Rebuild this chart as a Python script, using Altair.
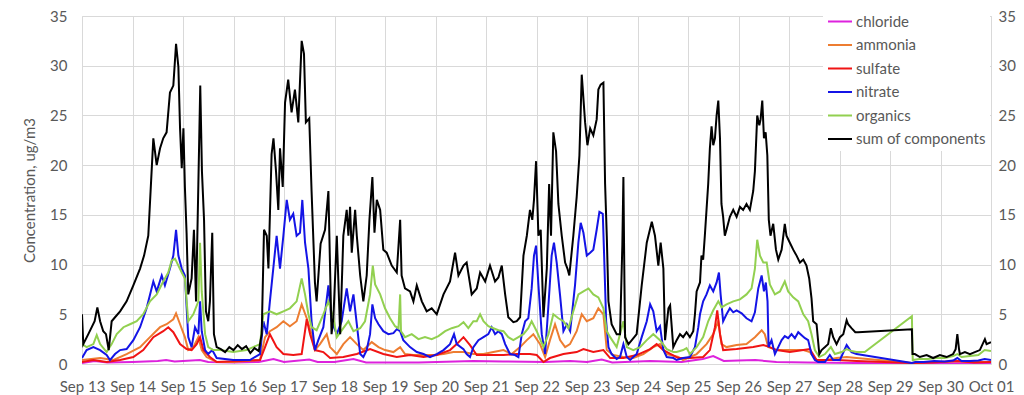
import altair as alt
import pandas as pd

SERIES = ["chloride", "ammonia", "sulfate", "nitrate", "organics", "sum of components"]
COLORS = ["#DD22DD", "#ED7D31", "#F01414", "#1414E6", "#92D050", "#000000"]
DAY_LABELS = ["Sep 13", "Sep 14", "Sep 15", "Sep 16", "Sep 17", "Sep 18", "Sep 19", "Sep 20",
              "Sep 21", "Sep 22", "Sep 23", "Sep 24", "Sep 25", "Sep 26", "Sep 27", "Sep 28",
              "Sep 29", "Sep 30", "Oct 01"]
Y_TICKS = [0, 5, 10, 15, 20, 25, 30, 35]

# hours since Sep 13 00:00, concentration (ug/m3)
SUM_H = [0, 0.6, 3.0, 6.0, 7.3, 8.6, 10.1, 11.4, 12.7, 14.1, 15.7, 18.1, 21.2, 24.4, 27.6, 29.5, 31.5, 32.6,
         33.9, 35.5, 37.1, 38.6, 40.2, 41.8, 43.4, 44.7, 45.8, 46.6, 47.4, 48.2, 48.9, 49.7, 50.5, 52.1, 53.2,
         54.2, 55.3, 56.2, 57.0, 58.0, 58.9, 60.0, 60.8, 61.9, 62.7, 64.0, 66, 68, 70, 72, 74, 76, 78, 80, 82,
         84, 85.4, 86.5, 87.8, 88.6, 90.1, 91.0, 92.2, 93.3, 94.1, 95.4, 96.5, 98.0, 99.6, 101.2, 102.8, 104.4,
         105.5, 106.4, 108.0, 109.1, 110.7, 111.5, 113.4, 115.5, 117.1, 117.9, 118.6, 119.5, 121.1, 122.7,
         124.2, 125.8, 126.6, 127.4, 128.2, 129.8, 130.6, 132.2, 133.7, 135.3, 136.6, 138.0, 139.0, 140.1,
         141.7, 143.2, 144.8, 147.2, 149.6, 151.2, 151.9, 153.5, 155.9, 157.5, 159.1, 161.5, 163.8, 166.2,
         168.6, 171.8, 174.9, 177.3, 178.9, 181.3, 182.8, 185.2, 187.6, 189.2, 191.6, 193.9, 196.3, 197.9,
         199.5, 201.1, 202.6, 205.0, 206.6, 208.2, 209.8, 211.4, 212.9, 214.0, 214.8, 215.8, 216.9, 218.0,
         219.3, 220.9, 222.0, 222.9, 224.0, 225.3, 226.4, 228.0, 229.6, 230.7, 231.6, 233.5, 235.1, 236.4,
         237.5, 239.1, 240.2, 241.5, 243.0, 244.6, 245.4, 246.5, 247.8, 248.6, 249.4, 250.2, 251.7, 254.1,
         255.7, 256.8, 257.3, 257.8, 258.1, 259.7, 261.3, 263.6, 266.0, 268.4, 270.8, 272.3, 273.9, 275.0,
         276.3, 277.1, 278.7, 279.5, 281.0, 282.6, 284.2, 285.7, 287.3, 288.9, 290.5, 291.3, 292.1, 293.7,
         294.4, 295.2, 296.0, 296.8, 297.6, 298.4, 299.2, 300.0, 300.8, 301.6, 302.4, 303.2, 303.9, 304.7,
         305.5, 306.3, 307.9, 309.5, 311.1, 312.7, 314.2, 315.8, 317.4, 319.0, 319.8, 320.9, 321.9, 322.5,
         323.3, 324.1, 324.9, 325.7, 326.4, 327.2, 328.5, 329.8, 330.9, 332.5, 334.0, 334.8, 336.4, 338.0,
         339.6, 341.2, 342.8, 344.3, 345.6, 346.7, 347.5, 349.1, 350.4, 351.5, 353.1, 354.6, 355.9, 357.0,
         358.6, 360.2, 361.8, 363.4, 364.1, 365.7, 367.5, 368.8, 394.4, 394.7, 395.8, 398.2, 401.4, 404.5,
         407.7, 410.9, 414.0, 415.2, 416.0, 416.8, 417.2, 419.6, 422.0, 424.3, 426.7, 429.1, 429.9, 432.0]
SUM_V = [5.0, 2.0, 3.0, 4.3, 5.7, 4.3, 3.3, 3.0, 1.4, 4.3, 4.7, 5.3, 6.3, 7.9, 9.6, 10.9, 12.9, 17.4,
         22.7, 20.0, 21.7, 22.7, 23.3, 27.3, 28.0, 32.2, 29.9, 23.7, 19.7, 23.7, 17.8, 13.2, 7.0, 8.6, 13.5,
         6.3, 18.1, 28.0, 19.4, 14.5, 5.3, 4.3, 6.3, 13.2, 3.0, 1.7, 1.5, 1.2, 1.7, 1.4, 1.9, 1.5, 1.8, 1.1, 1.6,
         1.3, 3.0, 13.5, 12.9, 9.6, 21.1, 22.7, 19.4, 15.5, 21.7, 17.8, 26.3, 28.6, 25.3, 27.6, 24.3, 32.5,
         31.2, 24.3, 24.7, 17.4, 8.2, 6.3, 12.1, 13.5, 17.4, 9.6, 3.0, 4.7, 12.9, 3.0,
         12.9, 15.5, 12.9, 15.8, 11.2, 15.5, 12.9, 8.9, 6.3, 8.9, 14.5, 18.8, 13.2, 16.5,
         15.5, 11.5, 11.2, 9.9, 9.2, 14.5, 8.9, 7.6, 7.3, 6.3, 7.9, 6.3, 5.3, 5.6,
         5.0, 7.0, 8.3, 11.2, 8.9, 9.9, 10.2, 7.0, 7.6, 9.2, 8.3, 9.9, 8.3, 8.7,
         9.9, 7.0, 4.7, 4.2, 4.3, 4.7, 10.9, 12.9, 15.5, 14.5, 16.5, 20.4, 12.9, 13.5,
         4.7, 9.6, 18.1, 12.9, 23.3, 21.4, 16.1, 12.9, 10.2, 9.6, 8.9, 12.9, 16.8, 21.0,
         29.1, 24.3, 22.0, 23.7, 23.0, 24.6, 27.6, 28.1, 28.3, 18.1, 12.9, 6.3, 4.0, 3.0,
         3.0, 12.0, 18.8, 8.0, 2.7, 2.0, 2.4, 3.0, 7.9, 12.2, 14.3, 12.9, 9.9, 12.2,
         9.6, 2.4, 5.6, 5.9, 1.7, 2.4, 3.0, 2.7, 3.2, 2.7, 3.3, 5.0, 7.3, 8.2,
         10.9, 10.5, 12.9, 15.5, 18.1, 21.7, 23.9, 22.0, 22.7, 25.0, 26.5, 22.7, 16.1, 14.8,
         12.9, 13.5, 14.8, 15.5, 14.8, 15.8, 15.5, 16.1, 15.5, 17.4, 19.4, 25.0, 24.0, 24.6,
         26.5, 22.7, 23.3, 21.0, 14.5, 12.9, 14.1, 11.5, 10.5, 11.5, 14.1, 12.9, 12.2, 11.5,
         10.9, 10.2, 10.5, 9.9, 8.6, 6.6, 4.3, 4.0, 1.0, 1.4, 1.7, 2.0, 3.6, 2.7,
         2.0, 2.7, 3.0, 4.4, 4.0, 3.6, 3.2, 3.2, 3.5, 1.0, 1.0, 0.7, 0.9, 0.6,
         0.9, 0.7, 1.0, 1.5, 3.0, 1.5, 1.0, 1.2, 1.0, 1.2, 1.4, 2.5, 2.0, 2.2]

NIT_H = [0, 2.2, 5.4, 8.6, 11.7, 13.3, 15.7, 18.1, 21.2, 24.4, 27.6, 30.7, 33.9, 35.5, 37.9, 39.4, 41.8, 43.4,
         44.7, 45.8, 47.4, 48.9, 50.5, 52.1, 53.7, 55.3, 56.1, 56.9, 58.5, 60.0, 61.9, 64.0, 71.9, 79.8, 84.6,
         86.2, 87.8, 89.3, 90.9, 92.5, 94.1, 95.7, 97.3, 98.8, 100.4, 102.0, 103.6, 104.7, 106.0, 107.6, 109.1,
         110.7, 112.3, 114.7, 117.1, 118.6, 121.1, 123.4, 125.8, 127.4, 129.0, 130.6, 132.2, 133.7, 135.3,
         136.9, 138.0, 139.3, 140.9, 143.2, 145.6, 148.0, 149.6, 151.2, 152.7, 155.9, 159.1, 162.3, 165.4,
         168.6, 171.8, 174.9, 176.8, 178.1, 181.3, 182.8, 184.4, 186.0, 188.4, 190.8, 193.1, 194.7, 196.3,
         197.9, 199.5, 201.1, 203.4, 205.8, 207.4, 209.0, 210.6, 212.1, 213.7, 214.8, 215.8, 216.9, 218.5,
         220.1, 221.7, 223.2, 224.3, 225.6, 227.2, 228.8, 230.4, 232.0, 234.3, 235.9, 237.0, 238.3, 239.9,
         241.5, 243.0, 244.6, 245.9, 247.5, 248.1, 249.1, 250.2, 251.7, 254.1, 255.7, 257.3, 258.9, 260.5,
         263.6, 266.0, 268.4, 270.0, 271.5, 273.1, 274.7, 276.3, 277.9, 281.1, 282.6, 285.7, 288.9, 291.3,
         292.9, 293.7, 295.2, 296.8, 298.4, 300.0, 301.6, 302.7, 303.5, 304.7, 306.3, 307.9, 309.5, 311.1,
         313.5, 315.8, 318.2, 319.8, 321.4, 323.0, 324.1, 325.0, 325.8, 326.3, 327.7, 329.3, 330.9, 332.5,
         334.0, 335.6, 337.2, 338.8, 340.4, 342.0, 343.6, 345.1, 346.7, 348.3, 349.9, 353.1, 355.4, 357.0,
         360.2, 363.4, 365.7, 368.1, 394.4, 396, 400, 405, 410, 414, 416, 418, 422, 426, 429, 432]
NIT_V = [0.6, 1.4, 1.7, 1.4, 0.9, 0.4, 1.0, 1.4, 1.5, 2.4, 3.7, 5.6, 8.3, 7.3, 8.9, 7.9, 9.6, 10.9,
         13.5, 10.9, 9.6, 8.9, 2.7, 1.7, 3.7, 3.0, 6.3, 3.3, 1.4, 1.0, 1.4, 0.6, 0.4, 0.4, 1.0,
         4.3, 3.0, 6.3, 9.6, 12.9, 9.6, 12.9, 16.5, 14.5, 15.1, 12.9, 13.2, 16.5, 12.2, 9.6, 4.3,
         1.4, 2.4, 3.7, 7.9, 4.3, 3.0, 4.3, 7.6, 5.3, 7.0, 4.0, 1.0, 0.7, 1.4,
         3.0, 6.0, 4.6, 4.0, 3.3, 3.0, 3.1, 3.5, 3.3, 2.4, 1.7, 1.2, 1.0, 0.7,
         1.0, 1.4, 2.0, 3.0, 2.0, 1.5, 1.0, 0.7, 1.7, 2.4, 2.7, 3.0, 3.7, 3.0,
         3.3, 3.0, 2.0, 1.0, 0.9, 0.7, 3.0, 4.3, 4.6, 7.6, 10.9, 11.9, 8.0, 3.0,
         1.0, 6.0, 10.9, 12.2, 10.2, 6.9, 3.3, 4.0, 3.3, 7.9, 12.2, 14.2, 13.2, 10.9,
         11.2, 11.5, 13.5, 15.3, 15.1, 11.2, 4.3, 1.7, 1.0, 0.5, 0.7, 2.0, 0.7, 0.4,
         1.0, 2.7, 4.3, 6.0, 5.3, 3.3, 3.8, 1.4, 0.7, 0.6, 0.4, 0.6, 0.7, 1.7,
         3.7, 5.0, 6.3, 7.0, 7.9, 7.3, 8.2, 9.2, 7.0, 4.3, 5.0, 5.6, 5.2, 5.4,
         5.1, 4.6, 4.3, 5.2, 7.6, 8.9, 7.3, 8.2, 6.3, 1.7, 2.4, 1.0, 1.7, 2.4,
         2.8, 2.6, 3.0, 2.6, 3.2, 2.9, 2.6, 2.4, 1.0, 0.4, 0.2, 0.2, 0.9, 0.4,
         0.4, 1.9, 1.2, 1.0, 0.1, 0.2, 0.2, 0.3, 0.25, 0.35, 0.6, 0.3, 0.3, 0.35, 0.5, 0.4]

ORG_H = [0, 2.2, 5.4, 7.0, 8.6, 11.7, 14.1, 16.5, 19.7, 22.8, 26.0, 29.1, 32.3, 35.5, 38.6, 41.0, 42.6, 44.2,
         45.8, 47.4, 48.9, 50.5, 52.9, 55.3, 56.1, 56.9, 58.5, 60.0, 62.4, 65.6, 71.9, 78.2, 84.6, 86.2, 89.3,
         92.5, 95.7, 98.8, 102.0, 104.4, 106.0, 107.6, 109.1, 111.5, 114.7, 117.1, 119.5, 121.1, 124.2, 126.6,
         129.0, 132.2, 134.5, 136.9, 138.2, 139.3, 141.7, 144.0, 146.4, 148.8, 150.4, 151.2, 151.6, 153.5,
         156.7, 159.9, 163.0, 166.2, 169.4, 172.6, 175.7, 178.9, 181.3, 183.6, 186.0, 187.6, 189.2, 190.8,
         193.1, 195.5, 197.9, 200.3, 202.6, 205.0, 207.4, 209.8, 212.1, 213.7, 216.1, 219.3, 221.7, 224.0,
         226.4, 228.8, 231.2, 233.5, 235.9, 238.3, 240.7, 243.0, 245.4, 247.8, 249.4, 251.0, 254.1, 257.3,
         258.9, 262.0, 265.2, 268.4, 271.5, 274.7, 277.9, 281.1, 282.6, 285.7, 287.3, 288.9, 292.1, 295.2,
         297.6, 300.0, 302.4, 304.0, 306.3, 309.5, 312.7, 315.8, 318.2, 319.8, 320.9, 322.2, 323.8, 325.4,
         326.9, 329.3, 331.7, 334.0, 335.6, 338.0, 340.4, 342.8, 345.1, 346.7, 348.3, 350.4, 353.1, 355.9,
         357.8, 361.0, 363.4, 365.7, 368.1, 372.0, 394.4, 394.8, 398, 402, 406, 410, 414, 416, 418, 422,
         426, 429, 432]
ORG_V = [2.0, 1.7, 2.0, 2.9, 2.0, 1.2, 2.0, 3.0, 3.7, 4.0, 4.3, 5.0, 6.3, 7.0, 8.3, 9.2, 10.4, 10.6,
         9.9, 9.2, 8.6, 4.3, 5.0, 6.3, 12.2, 7.3, 3.0, 1.7, 1.4, 1.4, 1.2, 1.4, 2.0, 5.0, 5.3,
         5.0, 5.3, 5.6, 6.3, 8.6, 7.0, 5.0, 3.7, 3.4, 5.0, 6.3, 4.6, 2.7, 3.6, 4.3,
         3.3, 3.6, 4.3, 7.0, 9.9, 8.0, 7.0, 5.6, 4.6, 3.8, 3.6, 7.0, 3.3, 2.7,
         3.0, 2.5, 2.7, 2.5, 2.8, 3.3, 3.6, 3.8, 4.2, 3.6, 4.3, 4.3, 5.0, 4.3,
         3.8, 3.6, 3.4, 3.3, 2.7, 2.4, 2.7, 3.0, 3.6, 4.3, 3.3, 1.7, 3.0, 5.0,
         4.6, 4.3, 3.6, 5.3, 7.0, 7.3, 7.6, 7.0, 6.7, 5.6, 3.3, 2.7, 1.7, 4.3,
         1.7, 1.4, 1.7, 2.4, 3.0, 2.4, 1.5, 1.2, 1.2, 1.4, 1.6, 1.0, 1.7, 2.7,
         4.3, 5.4, 6.3, 5.7, 6.0, 6.3, 6.5, 7.0, 7.6, 9.6, 12.5, 10.9, 10.2, 10.2,
         8.0, 7.0, 7.3, 8.3, 7.3, 6.7, 6.3, 5.0, 4.3, 3.0, 1.4, 0.7, 1.0, 1.7,
         1.0, 1.2, 1.5, 1.3, 1.2, 1.2, 4.8, 0.4, 0.5, 0.5, 0.6, 0.6, 0.8, 1.0, 0.7, 0.8,
         0.9, 1.4, 1.3]

AMM_H = [0, 8.6, 15.0, 21.2, 27.6, 32.3, 37.1, 40.2, 43.4, 44.7, 46.6, 48.9, 50.5, 52.9, 55.3, 56.9, 59.2,
         64.0, 71.9, 84.6, 87.0, 89.3, 92.5, 95.7, 98.8, 102.0, 104.4, 106.8, 109.1, 110.7, 113.1, 116.3,
         117.9, 121.1, 124.2, 127.4, 130.6, 133.7, 137.7, 140.9, 144.0, 148.0, 151.2, 153.5, 157.5, 162.3,
         167.0, 171.8, 176.5, 181.3, 186.0, 190.8, 195.5, 200.3, 204.2, 208.2, 211.4, 214.5, 217.7, 220.1,
         222.4, 224.8, 227.2, 229.6, 231.9, 235.1, 237.5, 239.9, 243.0, 245.4, 247.8, 249.4, 252.5, 257.3,
         262.0, 266.8, 271.5, 274.7, 277.9, 283.4, 285.7, 292.1, 296.8, 300.0, 302.4, 303.9, 306.3, 311.1,
         315.8, 319.8, 323.0, 324.5, 326.1, 330.1, 336.4, 342.8, 345.9, 349.1, 353.9, 358.6, 363.4, 368.1,
         394.4, 400, 410, 416, 422, 432]
AMM_V = [0.4, 0.6, 0.4, 1.0, 1.7, 2.7, 3.7, 4.0, 4.5, 5.1, 4.0, 2.7, 1.4, 1.7, 2.7, 1.4, 0.7,
         0.2, 0.2, 0.4, 2.7, 3.3, 3.7, 4.3, 3.8, 4.3, 6.0, 4.6, 3.0, 1.4, 2.0, 3.0,
         1.7, 1.0, 2.0, 2.7, 2.0, 1.4, 2.2, 1.7, 1.4, 1.2, 1.7, 1.0, 0.9, 0.9,
         0.9, 1.0, 1.2, 1.2, 1.0, 1.0, 1.2, 1.4, 1.0, 1.7, 2.4, 3.0, 2.0, 0.7,
         2.4, 4.0, 2.4, 1.7, 2.0, 3.3, 5.0, 4.3, 4.6, 5.6, 5.0, 1.4, 0.9, 0.7,
         0.6, 1.0, 1.7, 2.0, 1.0, 0.7, 0.4, 1.0, 2.0, 3.0, 4.3, 2.0, 1.7, 1.9,
         2.0, 2.7, 3.4, 3.0, 1.7, 1.4, 1.4, 1.4, 1.2, 0.4, 0.4, 0.6, 0.7, 0.6,
         0.1, 0.2, 0.2, 0.3, 0.2, 0.2]

SUL_H = [0, 5.4, 11.7, 18.1, 24.4, 29.1, 33.9, 38.6, 41.0, 43.4, 46.6, 49.7, 52.1, 54.5, 56.1, 57.7, 60.8,
         64.0, 84.6, 87.0, 89.3, 92.5, 95.7, 100.4, 104.4, 106.8, 108.4, 110.7, 114.7, 117.9, 124.2, 130.6,
         136.9, 143.2, 149.6, 155.9, 162.3, 168.6, 174.9, 178.1, 181.3, 184.4, 187.6, 193.9, 200.3, 206.6,
         212.9, 216.1, 219.3, 222.4, 228.8, 235.1, 238.3, 243.0, 247.8, 251.0, 257.3, 263.6, 270.0, 273.1,
         276.3, 283.4, 288.9, 295.2, 298.4, 300.8, 301.9, 303.2, 304.7, 311.1, 319.0, 323.8, 326.9, 330.1,
         336.4, 342.8, 345.9, 349.1, 358.6, 368.1, 394.4, 404, 416, 424, 432]
SUL_V = [0.2, 0.4, 0.2, 0.4, 0.7, 1.4, 2.7, 3.3, 3.7, 3.2, 2.0, 1.5, 1.4, 2.0, 2.7, 1.4, 0.7,
         0.2, 0.4, 1.7, 3.0, 1.7, 1.0, 0.9, 1.0, 4.5, 3.0, 1.4, 1.2, 0.6, 0.7, 1.0,
         1.5, 1.0, 0.7, 0.9, 0.7, 0.9, 1.4, 2.0, 2.7, 1.9, 0.9, 0.9, 0.9, 1.0,
         1.0, 0.9, 0.2, 0.6, 1.0, 1.2, 1.5, 1.2, 1.4, 0.6, 0.6, 0.9, 1.5, 2.0,
         1.4, 0.6, 0.6, 0.7, 1.4, 3.7, 5.4, 3.0, 1.4, 1.5, 1.7, 1.9, 1.7, 1.4,
         1.2, 1.4, 1.5, 0.4, 0.4, 0.3, 0.1, 0.15, 0.3, 0.15, 0.2]

CHL_H = [0, 6, 12, 24, 36, 40, 44, 56, 60, 72, 84, 91, 96, 108, 112, 120, 129, 135, 160, 186, 200, 220, 232,
         240, 247, 252, 270, 285, 295, 300, 305, 312, 320, 330, 345, 368, 394.4, 432]
CHL_V = [0.1, 0.3, 0.15, 0.2, 0.3, 0.4, 0.25, 0.4, 0.2, 0.15, 0.2, 0.5, 0.2, 0.45, 0.2, 0.2, 0.5, 0.15, 0.15,
         0.3, 0.25, 0.2, 0.3, 0.2, 0.45, 0.15, 0.3, 0.2, 0.5, 0.8, 0.3, 0.35, 0.4, 0.2, 0.15, 0.1, 0.05, 0.1]

pairs = [(CHL_H, CHL_V), (AMM_H, AMM_V), (SUL_H, SUL_V), (NIT_H, NIT_V), (ORG_H, ORG_V), (SUM_H, SUM_V)]
frames = []
for name, (hh, vv) in zip(SERIES, pairs):
    frames.append(pd.DataFrame({"series": name, "day": [h / 24 for h in hh], "value": vv}))
df = pd.concat(frames, ignore_index=True)

FONT = "Lato"
GREY = "#595959"
label_expr = "[" + ",".join("'%s'" % s for s in DAY_LABELS) + "][round(datum.value)]"

x_enc = alt.X("day:Q", scale=alt.Scale(domain=[0, len(DAY_LABELS) - 1], nice=False),
              axis=alt.Axis(values=list(range(len(DAY_LABELS))), labelExpr=label_expr, title=None,
                            ticks=False, domain=False, labelPadding=15, labelFontSize=15,
                            labelColor=GREY, labelFont=FONT, gridColor="#d9d9d9", labelOverlap=False,
                            labelFlush=False))
y_scale = alt.Scale(domain=[0, 35], nice=False)
color_scale = alt.Scale(domain=SERIES, range=COLORS)

layers = []
for name in SERIES:
    layers.append(
        alt.Chart(df).transform_filter(alt.datum.series == name).mark_line(strokeWidth=2, clip=True).encode(
            x=x_enc,
            y=alt.Y("value:Q", scale=y_scale,
                    axis=alt.Axis(values=Y_TICKS, orient="left", title="Concentration, ug/m3",
                                  ticks=False, domain=False, labelPadding=15, labelFontSize=15,
                                  labelColor=GREY, labelFont=FONT, titleFont=FONT, titleFontSize=15,
                                  titleFontWeight="normal", titleColor=GREY, titlePadding=12,
                                  gridColor="#d9d9d9", labelFlush=False)),
            color=alt.Color("series:N", scale=color_scale, sort=SERIES,
                            legend=alt.Legend(title=None, orient="none", legendX=741, legendY=-6,
                                              symbolType="stroke", symbolSize=576, symbolStrokeWidth=2,
                                              labelFontSize=15, labelFont=FONT, labelColor=GREY,
                                              labelOffset=3, rowPadding=7.5, padding=4, clipHeight=15,
                                              fillColor="white")),
        )
    )
lines = alt.layer(*layers)

right = alt.Chart(pd.DataFrame({"day": [0], "value": [0]})).mark_point(opacity=0).encode(
    x=alt.X("day:Q"),
    y=alt.Y("value:Q", scale=y_scale,
            axis=alt.Axis(values=Y_TICKS, orient="right", title=None, ticks=False, domain=False,
                          grid=False, labelPadding=7, labelFontSize=15, labelColor=GREY, labelFont=FONT,
                          labelFlush=False)),
)

chart = alt.layer(lines, right).resolve_axis(y="independent").properties(
    width=909, height=348, autosize="none",
    padding={"left": 74, "top": 8, "right": 25, "bottom": 31},
).configure_view(stroke=None).configure(background="white")

chart.save("out.html", embed_options={"renderer": "svg", "actions": False})
